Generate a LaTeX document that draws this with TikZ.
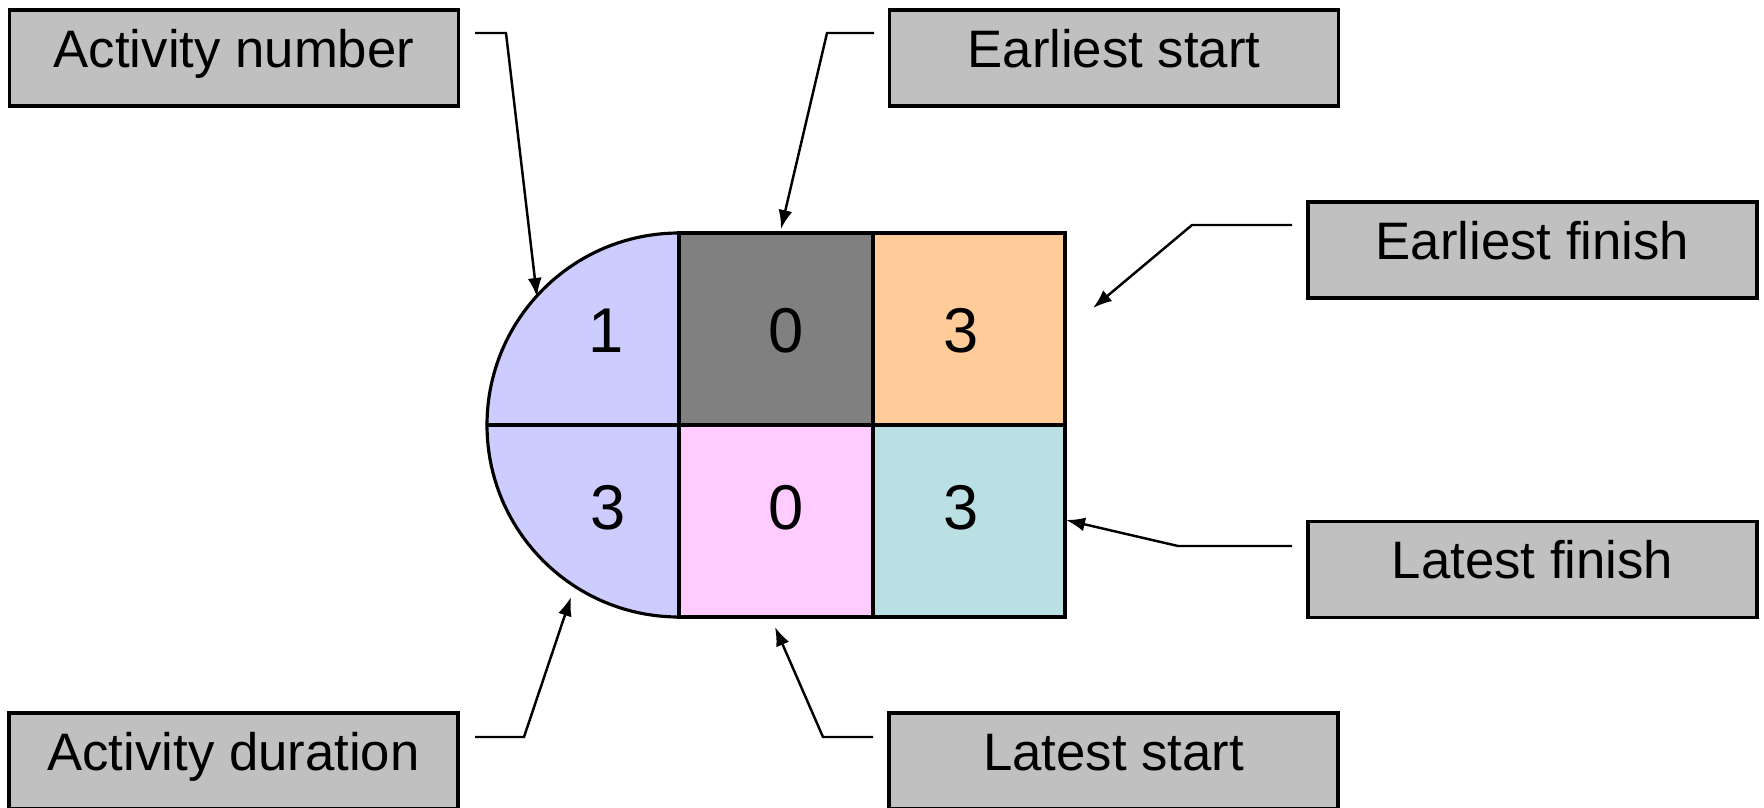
\documentclass[tikz,border=0pt]{standalone}
\usepackage{fontspec}
\setmainfont{Liberation Sans}
\usetikzlibrary{arrows.meta}
\definecolor{keygray}{RGB}{192,192,192}
\definecolor{actblue}{RGB}{204,204,255}
\definecolor{esgray}{RGB}{128,128,128}
\definecolor{eforange}{RGB}{255,204,153}
\definecolor{lspink}{RGB}{255,204,255}
\definecolor{lfcyan}{RGB}{187,224,227}
\begin{document}
\begin{tikzpicture}[
  keybox/.style={draw, line width=0.9pt, fill=keygray, minimum width=4.49cm, minimum height=0.96cm,
    font=\fontsize{15}{18}\selectfont, text height=0.75em, text depth=0.22em},
  numtext/.style={font=\fontsize{18}{22}\selectfont},
  cellline/.style={line width=0.9pt},
  leader/.style={line width=0.7pt, -{Latex[length=0.19cm,width=0.14cm]}}]
\useasboundingbox (0,0) rectangle (17.64,8.07);
\fill[white] (0,0) rectangle (17.64,8.07);
% activity box
\filldraw[cellline, fill=actblue] (6.79,5.74) arc (90:270:1.92) -- cycle;
\filldraw[cellline, fill=esgray] (6.79,3.82) rectangle (8.73,5.74);
\filldraw[cellline, fill=eforange] (8.73,3.82) rectangle (10.65,5.74);
\filldraw[cellline, fill=lspink] (6.79,1.90) rectangle (8.73,3.82);
\filldraw[cellline, fill=lfcyan] (8.73,1.90) rectangle (10.65,3.82);
\draw[cellline] (4.87,3.82) -- (6.79,3.82);
\node[numtext] (num) at (6.06,4.76) {1};
\node[numtext] (dur) at (6.08,2.99) {3};
\node[numtext] (es) at (7.86,4.76) {0};
\node[numtext] (ef) at (9.61,4.76) {3};
\node[numtext] (ls) at (7.86,2.99) {0};
\node[numtext] (lf) at (9.61,2.99) {3};
% keys
\node[keybox] (numkey) at (2.34,7.49) {Activity number};
\node[keybox] (eskey) at (11.14,7.49) {Earliest start};
\node[keybox] (efkey) at (15.325,5.57) {Earliest finish};
\node[keybox] (lfkey) at (15.325,2.375) {Latest finish};
\node[keybox] (durkey) at (2.335,0.46) {Activity duration};
\node[keybox] (lskey) at (11.135,0.46) {Latest start};
% leader ends
\coordinate (numfoot) at (4.75,7.74);
\coordinate (numbend) at (5.06,7.74);
\coordinate (numtip) at (5.37,5.10);
\coordinate (esfoot) at (8.74,7.74);
\coordinate (esbend) at (8.27,7.74);
\coordinate (estip) at (7.81,5.78);
\coordinate (effoot) at (12.92,5.82);
\coordinate (efbend) at (11.92,5.82);
\coordinate (eftip) at (10.93,4.99);
\coordinate (lffoot) at (12.92,2.61);
\coordinate (lfbend) at (11.78,2.61);
\coordinate (lftip) at (10.66,2.87);
\coordinate (durfoot) at (4.75,0.70);
\coordinate (durbend) at (5.24,0.70);
\coordinate (durtip) at (5.71,2.10);
\coordinate (lsfoot) at (8.73,0.70);
\coordinate (lsbend) at (8.23,0.70);
\coordinate (lstip) at (7.75,1.80);
\draw[leader] (numfoot) -- (numbend) -- (numtip);
\draw[leader] (esfoot) -- (esbend) -- (estip);
\draw[leader] (effoot) -- (efbend) -- (eftip);
\draw[leader] (lffoot) -- (lfbend) -- (lftip);
\draw[leader] (durfoot) -- (durbend) -- (durtip);
\draw[leader] (lsfoot) -- (lsbend) -- (lstip);
\end{tikzpicture}
\end{document}
